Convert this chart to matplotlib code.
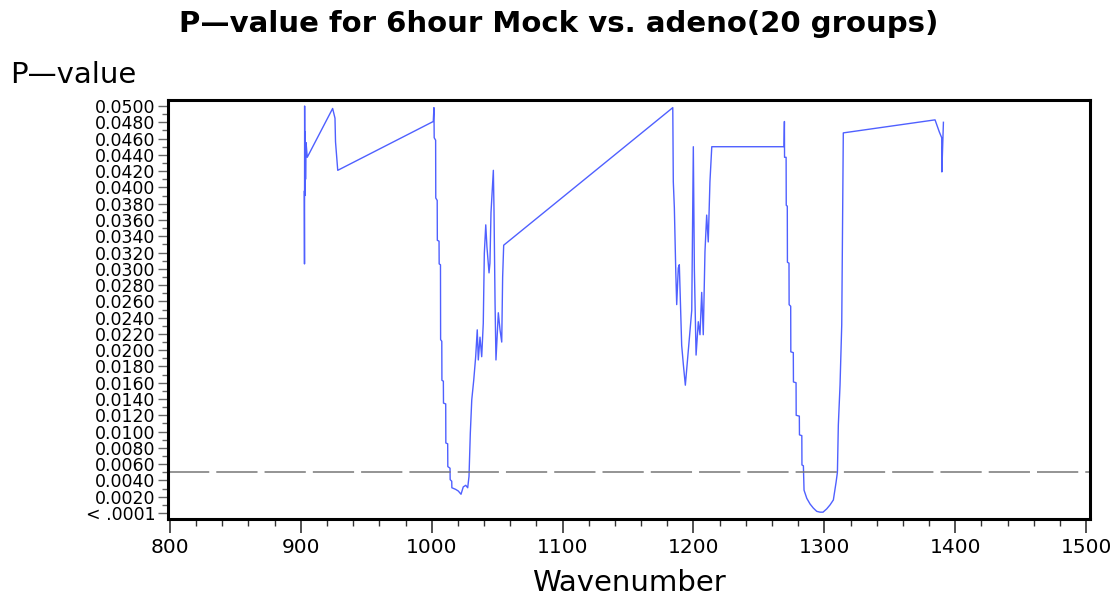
import matplotlib
matplotlib.use("Agg")
import matplotlib.pyplot as plt
from matplotlib.ticker import MultipleLocator, FixedLocator, FixedFormatter

wavenumber = [
    902.6, 902.8, 902.9, 903.1, 903.3, 903.6, 904.0, 904.9, 924.3, 926.1,
    926.5, 928.2, 1001.2, 1001.7, 1001.9, 1003.0, 1003.1, 1004.2, 1004.3, 1005.6,
    1005.7, 1006.7, 1006.8, 1007.7, 1007.8, 1008.9, 1009.0, 1010.7, 1010.8, 1012.2,
    1012.3, 1014.0, 1014.1, 1015.3, 1015.4, 1018.3, 1020.3, 1022.4, 1024.1, 1026.0,
    1027.5, 1028.5, 1029.5, 1030.6, 1032.1, 1033.6, 1034.8, 1035.6, 1036.9, 1038.2,
    1039.4, 1040.2, 1041.3, 1042.2, 1043.2, 1043.8, 1044.5, 1045.3, 1047.1, 1047.6,
    1048.4, 1049.1, 1050.9, 1052.2, 1053.5, 1054.2, 1055.0, 1184.2, 1184.6, 1185.4,
    1186.5, 1187.2, 1188.4, 1189.2, 1191.0, 1192.3, 1193.8, 1196.1, 1198.7, 1199.9,
    1200.7, 1202.0, 1203.7, 1205.0, 1206.3, 1207.5, 1208.8, 1210.1, 1211.3, 1212.6,
    1214.0, 1269.2, 1269.5, 1269.6, 1270.8, 1270.9, 1271.7, 1271.8, 1273.0, 1273.1,
    1274.3, 1274.4, 1276.3, 1276.4, 1278.4, 1278.5, 1280.9, 1281.0, 1282.8, 1282.9,
    1284.0, 1284.5, 1286.6, 1289.1, 1291.6, 1294.2, 1296.7, 1299.0, 1301.8, 1304.4,
    1306.9, 1309.0, 1310.0, 1310.7, 1312.0, 1313.3, 1314.0, 1314.5, 1384.6, 1387.9,
    1389.7, 1389.8, 1390.3, 1391.0,
]
p_value = [
    0.0395, 0.0306, 0.0500, 0.0390, 0.0468, 0.0410, 0.0455, 0.0437, 0.0497, 0.0485,
    0.0456, 0.0421, 0.0481, 0.0498, 0.0461, 0.0458, 0.0387, 0.0384, 0.0335, 0.0334,
    0.0306, 0.0305, 0.0213, 0.0211, 0.0163, 0.0162, 0.0135, 0.0134, 0.0086, 0.0085,
    0.0057, 0.0055, 0.0041, 0.0039, 0.0031, 0.0029, 0.0027, 0.0023, 0.0032, 0.0034,
    0.0031, 0.0045, 0.0098, 0.0139, 0.0163, 0.0192, 0.0225, 0.0188, 0.0216, 0.0192,
    0.0233, 0.0319, 0.0354, 0.0327, 0.0307, 0.0295, 0.0307, 0.0369, 0.0421, 0.0372,
    0.0258, 0.0188, 0.0246, 0.0225, 0.0210, 0.0290, 0.0329, 0.0498, 0.0407, 0.0375,
    0.0296, 0.0256, 0.0301, 0.0305, 0.0206, 0.0182, 0.0157, 0.0200, 0.0249, 0.0450,
    0.0299, 0.0194, 0.0235, 0.0219, 0.0271, 0.0219, 0.0321, 0.0366, 0.0333, 0.0407,
    0.0450, 0.0450, 0.0481, 0.0437, 0.0437, 0.0378, 0.0377, 0.0308, 0.0307, 0.0256,
    0.0254, 0.0198, 0.0197, 0.0161, 0.0160, 0.0120, 0.0119, 0.0096, 0.0095, 0.0059,
    0.0058, 0.0028, 0.0018, 0.0011, 0.0006, 0.0002, 0.0001, 0.0001, 0.0005, 0.0010,
    0.0016, 0.0038, 0.0050, 0.0108, 0.0157, 0.0231, 0.0375, 0.0467, 0.0483, 0.0468,
    0.0461, 0.0419, 0.0446, 0.0480,
]
threshold = 0.005

y_ticks = [i * 0.002 for i in range(26)]
y_labels = ["< .0001"] + ["%.4f" % v for v in y_ticks[1:]]
x_ticks = [800, 900, 1000, 1100, 1200, 1300, 1400, 1500]

title = "P\u2014value for 6hour Mock vs. adeno(20 groups)"
ylabel = "P\u2014value"
xlabel = "Wavenumber"

plt.rcParams['font.family'] = ['DejaVu Sans']

fig = plt.figure(figsize=(11.14, 5.99), dpi=100)
ax = fig.add_axes([168 / 1114, 80 / 599, (1090 - 168) / 1114, (519 - 100) / 599])

ax.plot(wavenumber, p_value, color="#4f60ff", lw=1.0)
ax.axhline(threshold, color="#777777", lw=1.1, dashes=(27, 4.6))

ax.set_xlim(798.5, 1503)
ax.set_ylim(-0.00074, 0.05074)

ax.yaxis.set_major_locator(FixedLocator(y_ticks))
ax.yaxis.set_major_formatter(FixedFormatter(y_labels))
ax.yaxis.set_minor_locator(MultipleLocator(0.001))
ax.xaxis.set_major_locator(FixedLocator(x_ticks))
ax.xaxis.set_minor_locator(MultipleLocator(20))

for s in ax.spines.values():
    s.set_linewidth(2.2)
    s.set_color("black")

ax.tick_params(axis="y", which="major", length=7, width=1.0, color="#666666",
               labelsize=12.5, pad=2)
ax.tick_params(axis="y", which="minor", length=4, width=1.0, color="#666666")
ax.tick_params(axis="x", which="major", length=10, width=1.2, color="#333333",
               labelsize=14.5, pad=4)
ax.tick_params(axis="x", which="minor", length=5, width=1.0, color="#333333")

ax.set_xlabel(xlabel, fontsize=21, labelpad=8)
fig.text(10 / 1114, 1 - 75 / 599, ylabel, fontsize=21, ha="left", va="center")
fig.text(559 / 1114, 1 - 24 / 599, title, fontsize=21, fontweight="bold",
         ha="center", va="center")

fig.savefig("out.png", dpi=100)
